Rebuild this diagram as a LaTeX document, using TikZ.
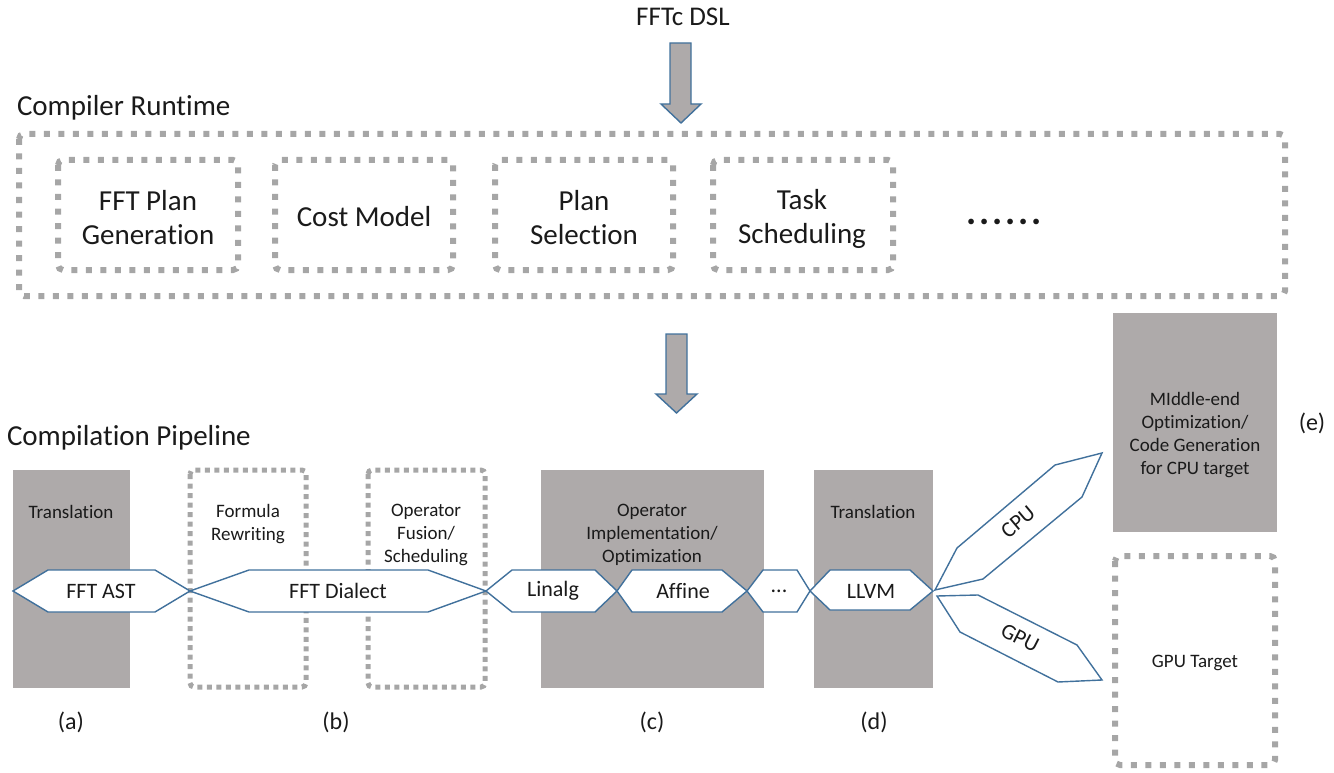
\documentclass[tikz,border=0pt]{standalone}
\usepackage{fontspec}
\setmainfont{Carlito}[Ligatures=NoCommon]
\definecolor{boxgray}{HTML}{AEAAAA}
\definecolor{dotgray}{HTML}{A6A6A6}
\definecolor{hexblue}{HTML}{41719C}
\definecolor{txt}{HTML}{1A1A1A}
\begin{document}
\begin{tikzpicture}[x=1pt,y=-1pt,
  every node/.style={inner sep=0pt, outer sep=0pt, text=txt},
  graybox/.style={fill=boxgray, draw=none},
  bigdots/.style={draw=dotgray, line width=6pt, dash pattern=on 6pt off 8.5pt, rounded corners=5pt},
  smalldots/.style={draw=dotgray, line width=5pt, dash pattern=on 5pt off 4.5pt, rounded corners=4pt},
  hexst/.style={draw=hexblue, line width=1.4pt, fill=white, line join=miter},
  arrowst/.style={draw=hexblue, line width=1.4pt, fill=boxgray, line join=miter},
  big/.style={font=\fontsize{29}{34}\selectfont, align=center},
  mid/.style={font=\fontsize{22}{26}\selectfont, align=center},
  small/.style={font=\fontsize{19}{23}\selectfont, align=center},
  lab/.style={font=\fontsize{24}{28}\selectfont}]
\useasboundingbox (0,0) rectangle (1334,773);

% top
\node[font=\fontsize{27}{32}\selectfont] (dsl) at (683,17) {FFTc DSL};
\draw[arrowst] (670,43) -- (691,43) -- (691,104) -- (701,104) -- (681,123) -- (661,104) -- (670,104) -- cycle;

% compiler runtime
\node[big, anchor=west] (crt) at (17,108) {Compiler Runtime};
\draw[bigdots] (19,134) rectangle (1285,296);
\draw[bigdots] (58,160) rectangle (238,270);
\draw[bigdots] (275,160) rectangle (453,270);
\draw[bigdots] (495,160) rectangle (673,270);
\draw[bigdots] (713,160) rectangle (893,270);
\node[big] (plan) at (148,218) {FFT Plan\\Generation};
\node[big] (cost) at (364,217) {Cost Model};
\node[big] (sel) at (584,218) {Plan\\Selection};
\node[big] (task) at (802,219) {Task\\Scheduling};
\node[font=\bfseries\fontsize{38}{40}\selectfont] (dots) at (1004,222) {.\kern3pt.\kern3pt.\kern3pt.\kern3pt.\kern3pt.};

\draw[arrowst] (666,334) -- (687,334) -- (687,394) -- (697,394) -- (676.5,413) -- (656,394) -- (666,394) -- cycle;

% pipeline
\node[big, anchor=west] (cpl) at (7,438) {Compilation Pipeline};
\fill[graybox] (13,470) rectangle (130,688);
\fill[graybox] (541,470) rectangle (764,688);
\fill[graybox] (814,470) rectangle (933,688);
\fill[graybox] (1113,313) rectangle (1277,532);
\draw[smalldots] (190,470) rectangle (306,687);
\draw[smalldots] (368,470) rectangle (485,687);
\draw[bigdots] (1115,556) rectangle (1275,765);

\node[small] (tra) at (71,512) {Translation};
\node[small] (frw) at (248,524) {Formula\\Rewriting};
\node[small] (ofs) at (426,535) {Operator\\Fusion/\\Scheduling};
\node[small] (oio) at (652,535) {Operator\\Implementation/\\Optimization};
\node[small] (trd) at (873,512) {Translation};
\node[small] (mid) at (1195,435) {MIddle-end\\Optimization/\\Code Generation\\for CPU target};
\node[small] (gput) at (1195,663) {GPU Target};
\node[lab] (e) at (1312,423) {(e)};

% hexagons
\draw[hexst] (13,591) -- (48,570) -- (155,570) -- (190,591) -- (155,612) -- (48,612) -- cycle;
\draw[hexst] (190,591) -- (249,570) -- (428,570) -- (486,591) -- (428,612) -- (249,612) -- cycle;
\draw[hexst] (486,591) -- (512,570) -- (595,570) -- (617,591) -- (595,612) -- (512,612) -- cycle;
\draw[hexst] (617,591) -- (632,570) -- (722,570) -- (747,591) -- (722,612) -- (632,612) -- cycle;
\draw[hexst] (747,591) -- (763,570) -- (797,570) -- (810,591) -- (797,612) -- (763,612) -- cycle;
\draw[hexst] (810,591) -- (830,570) -- (910,570) -- (933,591) -- (910,610) -- (830,610) -- cycle;
\node[mid] (ast) at (101,591) {FFT AST};
\node[mid] (dia) at (338,591) {FFT Dialect};
\node[mid] (lin) at (553,591) {Linalg};
\node[mid] (aff) at (683,591) {Affine};
\node[mid] (ell) at (779,591) {...};
\node[mid] (llvm) at (871,591) {LLVM};

\draw[hexst] (935,590) -- (957,548) -- (1055,465) -- (1102,453) -- (1082,497) -- (983,579) -- cycle;
\draw[hexst] (937,596) -- (978,595) -- (1077,645) -- (1102,680) -- (1058,682) -- (960,632) -- cycle;
\node[mid, rotate=40] (cpu) at (1018,522) {CPU};
\node[mid, rotate=-27] (gpu) at (1020,638) {GPU};

% labels
\node[lab] (la) at (71,722) {(a)};
\node[lab] (lb) at (336,722) {(b)};
\node[lab] (lc) at (652,722) {(c)};
\node[lab] (ld) at (874,722) {(d)};
\end{tikzpicture}
\end{document}
